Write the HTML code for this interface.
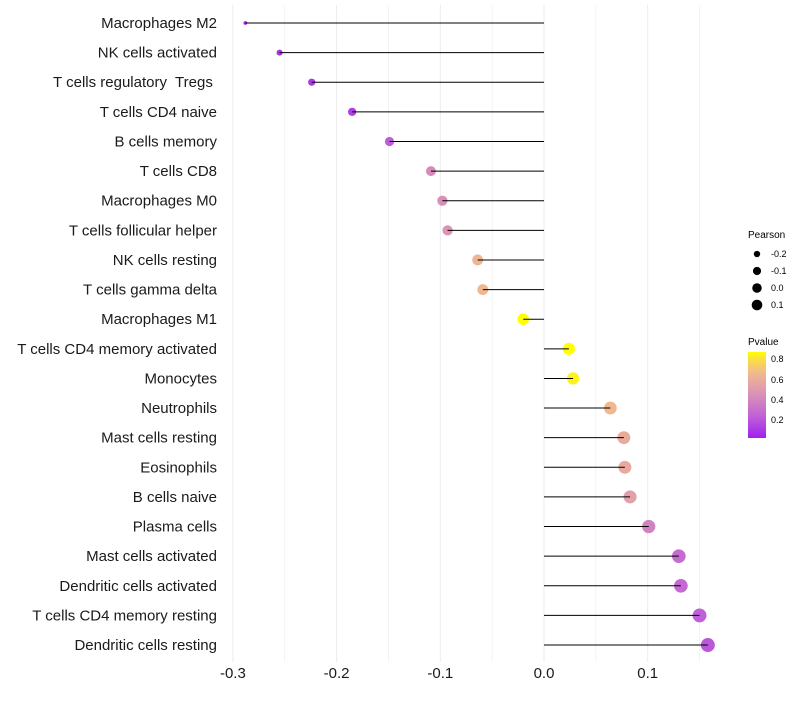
<!DOCTYPE html>
<html><head><meta charset="utf-8"><style>
body{margin:0;background:#fff;font-family:"Liberation Sans",sans-serif;}
text{white-space:pre;}
</style></head><body>
<svg id="chart" width="800" height="700" xmlns="http://www.w3.org/2000/svg" font-family="Liberation Sans, sans-serif">
<g id="grid"></g>
<g id="marks"></g>
<g id="ylabels"></g>
<g id="xlabels"></g>
<g font-size="9">
<text x="748" y="238" font-size="10">Pearson</text>
<g id="sizeleg"></g>
</g>
<g font-size="9">
<defs><linearGradient id="pg" x1="0" y1="1" x2="0" y2="0">
<stop offset="0" stop-color="#a020f0"/><stop offset="0.25" stop-color="#c060d8"/><stop offset="0.5" stop-color="#d890b8"/><stop offset="0.75" stop-color="#f0b890"/><stop offset="0.92" stop-color="#fbe040"/><stop offset="1" stop-color="#ffff00"/></linearGradient></defs>
<text x="748" y="345" font-size="10">Pvalue</text>
<rect x="748" y="352" width="18" height="86" fill="url(#pg)"/>
<text x="771" y="362">0.8</text>
<text x="771" y="383">0.6</text>
<text x="771" y="403">0.4</text>
<text x="771" y="423">0.2</text>
</g>
</svg>
<script>
const categories=["Macrophages M2","NK cells activated","T cells regulatory  Tregs ","T cells CD4 naive","B cells memory","T cells CD8","Macrophages M0","T cells follicular helper","NK cells resting","T cells gamma delta","Macrophages M1","T cells CD4 memory activated","Monocytes","Neutrophils","Mast cells resting","Eosinophils","B cells naive","Plasma cells","Mast cells activated","Dendritic cells activated","T cells CD4 memory resting","Dendritic cells resting"];
const pearson=[-0.288,-0.255,-0.224,-0.185,-0.149,-0.109,-0.098,-0.093,-0.064,-0.059,-0.020,0.024,0.028,0.064,0.077,0.078,0.083,0.101,0.130,0.132,0.150,0.158];
const pvalue=[0.03,0.06,0.08,0.10,0.20,0.40,0.42,0.44,0.60,0.62,0.86,0.83,0.80,0.62,0.56,0.55,0.50,0.36,0.26,0.25,0.21,0.18];
const xTicks=[-0.3,-0.2,-0.1,0.0,0.1];
const sizeLegend=[-0.2,-0.1,0.0,0.1];
const NS="http://www.w3.org/2000/svg";
const x=v=>544+v*1037;
const y=i=>23+i*29.62;
const r=v=>1.5+5.5*Math.sqrt(Math.max(0,(v+0.29)/0.448));
function col(p){
 const st=[[0,[160,32,240]],[0.21,[192,96,216]],[0.42,[216,144,184]],[0.62,[240,184,144]],[0.76,[251,224,64]],[0.83,[255,255,0]]];
 if(p>=0.83)return"rgb(255,255,0)";
 for(let k=0;k<st.length-1;k++){const a=st[k],b=st[k+1];if(p<=b[0]){const t=(p-a[0])/(b[0]-a[0]);return"rgb("+a[1].map((c,j)=>Math.round(c+(b[1][j]-c)*t)).join(",")+")";}}
}
function mk(tag,at,parent){const e=document.createElementNS(NS,tag);for(const k in at)e.setAttribute(k,at[k]);parent.appendChild(e);return e;}
const grid=document.getElementById("grid"),marks=document.getElementById("marks"),yl=document.getElementById("ylabels"),xl=document.getElementById("xlabels");
for(let v=-0.3;v<=0.151;v+=0.05){const g=mk("line",{x1:x(v),x2:x(v),y1:5,y2:662,stroke:"#ebebeb","stroke-width":Math.abs(Math.round(v*100)%10)<1?1:0.6},grid);

}
categories.forEach((c,i)=>{
 const d=mk("circle",{cx:x(pearson[i]),cy:y(i),r:r(pearson[i]),fill:col(pvalue[i])},marks);
 
 
 const l=mk("line",{x1:x(0),x2:x(pearson[i]),y1:y(i),y2:y(i),stroke:"#000","stroke-width":1},marks);
 
 
 const t=mk("text",{x:217,y:y(i)+5,"text-anchor":"end","font-size":15,fill:"#1a1a1a"},yl);
 t.textContent=c;
 
 
});
xTicks.forEach(v=>{const t=mk("text",{x:x(v),y:678,"text-anchor":"middle","font-size":15,fill:"#1a1a1a"},xl);
 t.textContent=v.toFixed(1);
 
 });
const sl=document.getElementById("sizeleg");
sizeLegend.forEach((v,k)=>{const cy=254+k*17;
 const c=mk("circle",{cx:757,cy:cy,r:r(v)*0.8,fill:"#000"},sl);
 
 
 const t=mk("text",{x:771,y:cy+3},sl);t.textContent=v.toFixed(1);
 
 });
</script>
</body></html>
